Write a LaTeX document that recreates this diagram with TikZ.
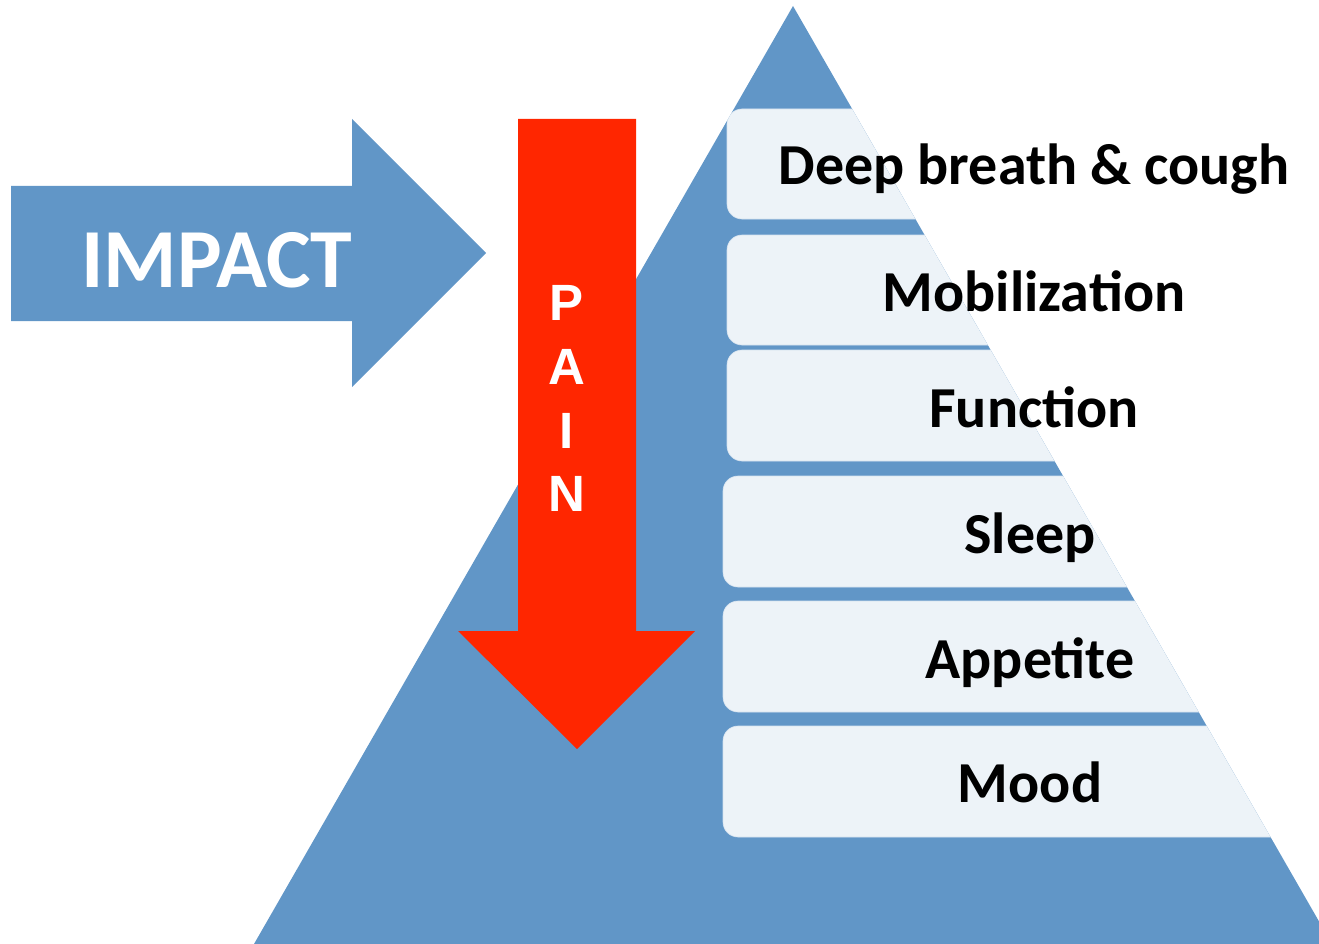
\documentclass[tikz,border=0pt]{standalone}
\usepackage{fontspec}
\newfontfamily\calb{Carlito}[BoldFont=* Bold]
\newfontfamily\arialb{Liberation Sans}[BoldFont=* Bold]
\definecolor{pyrblue}{HTML}{6196C7}
\definecolor{boxfill}{HTML}{EDF3F8}
\definecolor{boxedge}{HTML}{D5E2EF}
\definecolor{painred}{HTML}{FF2600}
\tikzset{
  pyramid/.style={fill=pyrblue},
  levelbox/.style={fill=boxfill, draw=boxedge, line width=0.6pt, rounded corners=15pt},
  leveltext/.style={font=\calb\bfseries\fontsize{58}{60}\selectfont, text=black, inner sep=0pt, anchor=base},
  impacttext/.style={font=\calb\bfseries\fontsize{84}{90}\selectfont, text=white, inner sep=0pt, anchor=base},
  paintext/.style={font=\arialb\bfseries\fontsize{51}{55}\selectfont, text=white, inner sep=0pt, anchor=base},
  bluearrow/.style={fill=pyrblue},
  redarrow/.style={fill=painred}
}
\begin{document}
\begin{tikzpicture}[x=1pt,y=-1pt]
\useasboundingbox (0,0) rectangle (1319,944);
% pyramid
\coordinate (apex) at (793,6);
\coordinate (bl) at (254,944);
\coordinate (br) at (1319,944);
\coordinate (rr) at (1319,921.4);
\fill[pyramid] (apex) -- (bl) -- (br) -- (rr) -- cycle;
% level boxes clipped to pyramid
\begin{scope}
\clip (apex) -- (bl) -- (br) -- (rr) -- cycle;
\draw[levelbox] (727,109) rectangle (1500,219);
\draw[levelbox] (727,235) rectangle (1500,345);
\draw[levelbox] (727,350) rectangle (1500,461);
\draw[levelbox] (723,476) rectangle (1500,587);
\draw[levelbox] (723,601) rectangle (1500,712);
\draw[levelbox] (723,726) rectangle (1500,837);
\end{scope}
\node[leveltext] (t1) at (1034,185) {Deep breath \& cough};
\node[leveltext] (t2) at (1034,311) {Mobilization};
\node[leveltext] (t3) at (1034,427) {Function};
\node[leveltext] (t4) at (1030,553) {Sleep};
\node[leveltext] (t5) at (1030,678) {Appetite};
\node[leveltext] (t6) at (1030,802) {Mood};
% impact arrow
\fill[bluearrow] (11,186) -- (352,186) -- (352,119) -- (486,253) -- (352,387) -- (352,321) -- (11,321) -- cycle;
\node[impacttext] (impact) at (217,287) {IMPACT};
% pain arrow
\fill[redarrow] (518,119) -- (636,119) -- (636,631) -- (695,631) -- (577,749) -- (458,631) -- (518,631) -- cycle;
\node[paintext] (p) at (567,320) {P};
\node[paintext] (a) at (567,384) {A};
\node[paintext] (i) at (567,448) {I};
\node[paintext] (n) at (567,511) {N};
\end{tikzpicture}
\end{document}
